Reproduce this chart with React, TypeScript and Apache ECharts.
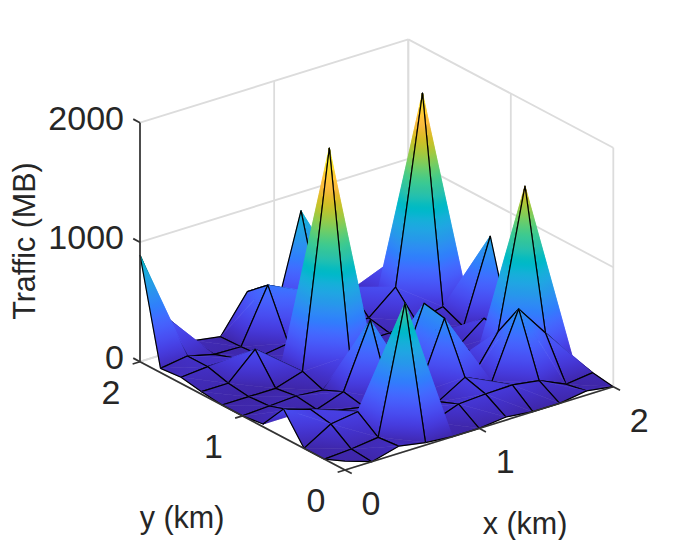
import React, { useEffect, useRef } from 'react';
import * as echarts from 'echarts';

// grid nodes, km
const xKm = [0, 0.2, 0.4, 0.6, 0.8, 1, 1.2, 1.4, 1.6, 1.8, 2];
const yKm = [0, 0.2, 0.4, 0.6, 0.8, 1, 1.2, 1.4, 1.6, 1.8, 2];

// traffic in MB, one list per y
const trafficY00 = [75, 0, 60, 20, 0, 0, 25, 0, 0, 35, 0];
const trafficY02 = [0, 15, 43, 1098, 30, 113, 127, 133, 99, 0, 27];
const trafficY04 = [0, 134, 167, 60, 50, 42, 176, 70, 609, 338, 70];
const trafficY06 = [238, 166, 88, 48, 40, 20, 579, 5, 328, 1477, 100];
const trafficY08 = [22, 70, 5, 83, 614, 40, 614, 40, 60, 150, 50];
const trafficY10 = [0, 13, 27, 7, 228, 10, 30, 30, 15, 189, 5];
const trafficY12 = [0, 0, 0, 72, 1872, 20, 40, 30, 40, 28, 717];
const trafficY14 = [21, 22, 236, 60, 50, 40, 20, 24, 55, 104, 5];
const trafficY16 = [51, 70, 73, 22, 55, 410, 60, 60, 247, 1802, 30];
const trafficY18 = [35, 68, 12, 7, 453, 340, 100, 225, 20, 369, 60];
const trafficY20 = [893, 300, 37, 0, 308, 10, 845, 100, 64, 100, 30];
const traffic = [
  trafficY00, trafficY02, trafficY04, trafficY06, trafficY08, trafficY10,
  trafficY12, trafficY14, trafficY16, trafficY18, trafficY20,
];

const xTicks = [0, 1, 2];
const yTicks = [0, 1, 2];
const zTicks = [0, 1000, 2000];
const zMax = 2000;
// colour limits follow the data
const cMax = 1872;

// MATLAB parula, 64 rows
const parula = [
  [.2422, .1504, .6603], [.2504, .165, .7076], [.2578, .1818, .7511], [.2647, .1978, .7952],
  [.2706, .2147, .8364], [.2751, .2342, .871], [.2783, .2559, .8991], [.2803, .2782, .9221],
  [.2813, .3006, .9414], [.281, .3228, .9579], [.2795, .3447, .9717], [.276, .3667, .9829],
  [.2699, .3892, .9906], [.2602, .4123, .9952], [.244, .4358, .9988], [.2206, .4603, .9973],
  [.1963, .4847, .9892], [.1834, .5074, .9798], [.1786, .5289, .9682], [.1764, .5499, .952],
  [.1687, .5703, .9359], [.154, .5902, .9218], [.146, .6091, .9079], [.138, .6276, .8973],
  [.1248, .6459, .8883], [.1113, .6635, .8763], [.0952, .6798, .8598], [.0689, .6948, .8394],
  [.0297, .7082, .8163], [.0036, .7197, .7917], [.0067, .7291, .766], [.0433, .7375, .7394],
  [.0964, .746, .7116], [.1408, .7539, .682], [.1717, .7617, .6483], [.1938, .7692, .6138],
  [.2161, .7843, .5923], [.247, .7918, .5567], [.2906, .7973, .5188], [.3406, .8008, .4789],
  [.3909, .8029, .4354], [.4456, .8024, .3909], [.5044, .7993, .348], [.5616, .7942, .3045],
  [.6174, .7876, .2612], [.672, .7793, .2227], [.7242, .7698, .191], [.7738, .7598, .1646],
  [.8203, .7498, .1535], [.8634, .7406, .1596], [.9035, .733, .1774], [.9393, .7288, .21],
  [.9728, .7298, .2394], [.9956, .7434, .2371], [.997, .7659, .2199], [.9952, .7893, .2028],
  [.9892, .8136, .1885], [.9786, .8386, .1766], [.9676, .8639, .1643], [.961, .889, .1537],
  [.9597, .9135, .1423], [.9628, .9373, .1265], [.9691, .9606, .1064], [.9769, .9839, .0805],
];

const colorAt = (t: number) => {
  const v = Math.max(0, Math.min(1, t)) * (parula.length - 1);
  const k = Math.min(Math.floor(v), parula.length - 2);
  const f = v - k;
  const rgb = parula[k].map((c, n) => Math.round(255 * (c + (parula[k + 1][n] - c) * f)));
  return `rgb(${rgb.join(',')})`;
};

// orthographic view: screen position of a point given in axis units
const project = (x: number, y: number, z: number): [number, number] => [
  345 + 134.15 * x - 102.5 * y,
  470 - 41.65 * x - 54.15 * y - 0.1195 * z,
];

type Node = { p: [number, number]; z: number };

// height is linear over a triangle, so its colours are a linear gradient
const triangleFill = (a: Node, b: Node, c: Node) => {
  const lo = Math.min(a.z, b.z, c.z);
  const hi = Math.max(a.z, b.z, c.z);
  if (hi - lo < 1) return colorAt(lo / cMax);
  const ux = b.p[0] - a.p[0];
  const uy = b.p[1] - a.p[1];
  const vx = c.p[0] - a.p[0];
  const vy = c.p[1] - a.p[1];
  const det = ux * vy - uy * vx;
  if (Math.abs(det) < 1e-6) return colorAt(lo / cMax);
  const gx = ((b.z - a.z) * vy - (c.z - a.z) * uy) / det;
  const gy = ((c.z - a.z) * ux - (b.z - a.z) * vx) / det;
  const g2 = gx * gx + gy * gy;
  const low = [a, b, c].find((n) => n.z === lo)!;
  const k = (hi - lo) / g2;
  const stops = [{ offset: 0, color: colorAt(lo / cMax) }];
  parula.forEach((_, n) => {
    const zv = (n / (parula.length - 1)) * cMax;
    if (zv > lo && zv < hi) {
      stops.push({ offset: (zv - lo) / (hi - lo), color: colorAt(zv / cMax) });
    }
  });
  stops.push({ offset: 1, color: colorAt(hi / cMax) });
  return new echarts.graphic.LinearGradient(
    low.p[0], low.p[1], low.p[0] + gx * k, low.p[1] + gy * k, stops, true,
  );
};

// quads from the back corner to the front one, so nearer cells paint over
const quads: number[][] = [];
for (let j = yKm.length - 2; j >= 0; j--) {
  for (let i = xKm.length - 2; i >= 0; i--) {
    quads.push([i, j]);
  }
}

const node = (i: number, j: number): Node => ({
  p: project(xKm[i], yKm[j], traffic[j][i]),
  z: traffic[j][i],
});

const renderQuad = (_: any, api: any) => {
  const i = api.value(0);
  const j = api.value(1);
  const n00 = node(i, j);
  const n10 = node(i + 1, j);
  const n11 = node(i + 1, j + 1);
  const n01 = node(i, j + 1);
  const tri = (a: Node, b: Node, c: Node) => {
    const fill = triangleFill(a, b, c);
    return {
      type: 'polygon',
      shape: { points: [a.p, b.p, c.p] },
      style: { fill, stroke: fill, lineWidth: 0.6, lineJoin: 'round' },
    };
  };
  const edges = (a: Node, b: Node, c: Node) => ({
    type: 'polyline',
    shape: { points: [a.p, b.p, c.p] },
    style: { fill: 'none', stroke: '#000', lineWidth: 1.2, lineJoin: 'round' },
  });
  // back triangle and its two edges first, the front triangle may hide them
  return {
    type: 'group',
    children: [
      tri(n10, n11, n01),
      edges(n10, n11, n01),
      tri(n00, n10, n01),
      edges(n10, n00, n01),
    ],
  };
};

const x0 = xKm[0];
const x1 = xKm[xKm.length - 1];
const y0 = yKm[0];
const y1 = yKm[yKm.length - 1];

// wall and floor grid as pairs of 3D points
const gridLines: number[][] = [];
zTicks.forEach((z) => {
  gridLines.push([x0, y1, z, x1, y1, z], [x1, y1, z, x1, y0, z]);
});
xTicks.forEach((x) => {
  gridLines.push([x, y1, 0, x, y1, zMax]);
  gridLines.push([x, y0, 0, x, y1, 0]);
});
yTicks.forEach((y) => {
  gridLines.push([x1, y, 0, x1, y, zMax]);
  gridLines.push([x0, y, 0, x1, y, 0]);
});

// axis rulers and their ticks
const tickLen = 0.055;
const axisLines: number[][] = [
  [x0, y1, 0, x0, y1, zMax],
  [x0, y0, 0, x1, y0, 0],
  [x0, y0, 0, x0, y1, 0],
];
zTicks.forEach((z) => axisLines.push([x0, y1, z, x0, y1 + tickLen * 1.2, z]));
xTicks.forEach((x) => axisLines.push([x, y0, 0, x, y0 - tickLen * 1.2, 0]));
yTicks.forEach((y) => axisLines.push([x0, y, 0, x0 - tickLen, y, 0]));

const renderSegment = (color: string, width: number) => (_: any, api: any) => {
  const a = project(api.value(0), api.value(1), api.value(2));
  const b = project(api.value(3), api.value(4), api.value(5));
  return {
    type: 'line',
    shape: { x1: a[0], y1: a[1], x2: b[0], y2: b[1] },
    style: { stroke: color, lineWidth: width },
  };
};

const font = '"Liberation Sans", Arial, sans-serif';
const label = (text: string, x: number, y: number, size: number, align: string, rotation = 0) => ({
  type: 'text',
  x,
  y,
  rotation,
  z: 50,
  style: {
    text,
    fill: '#262626',
    font: `${size}px ${font}`,
    textAlign: align,
    textVerticalAlign: 'middle',
  },
});

const tickSize = 34;
const axisSize = 30.5;

const App: React.FC = () => {
  const chartRef = useRef<HTMLDivElement>(null);

  useEffect(() => {
    if (!chartRef.current) return;
    const chart = echarts.init(chartRef.current, undefined, { renderer: 'svg' });

    const texts: any[] = [];
    zTicks.forEach((z) => {
      const p = project(x0, y1, z);
      texts.push(label(String(z), p[0] - 16, p[1] - 5, tickSize, 'right'));
    });
    yTicks.forEach((y) => {
      const p = project(x0, y, 0);
      texts.push(label(String(y), p[0] - 29, p[1] + 30, tickSize, 'center'));
    });
    xTicks.forEach((x) => {
      const p = project(x, y0, 0);
      texts.push(label(String(x), p[0] + 26, p[1] + 33, tickSize, 'center'));
    });
    texts.push(label('Traffic (MB)', 24, 241, axisSize, 'center', Math.PI / 2));
    texts.push(label('y (km)', 182, 517, axisSize, 'center'));
    texts.push(label('x (km)', 525, 523, axisSize, 'center'));

    chart.setOption({
      animation: false,
      backgroundColor: '#fff',
      graphic: { elements: texts },
      series: [
        {
          type: 'custom',
          coordinateSystem: 'none',
          z: 1,
          silent: true,
          data: gridLines,
          renderItem: renderSegment('#dcdcdc', 1.8),
        },
        {
          type: 'custom',
          coordinateSystem: 'none',
          z: 2,
          silent: true,
          data: quads,
          renderItem: renderQuad,
        },
        {
          type: 'custom',
          coordinateSystem: 'none',
          z: 3,
          silent: true,
          data: axisLines,
          renderItem: renderSegment('#333333', 1.7),
        },
      ],
    });

    return () => {
      chart.dispose();
    };
  }, []);

  return (
    <div
      ref={chartRef}
      style={{ position: 'fixed', left: 0, top: 0, width: 677, height: 540 }}
    />
  );
};

export default App;
